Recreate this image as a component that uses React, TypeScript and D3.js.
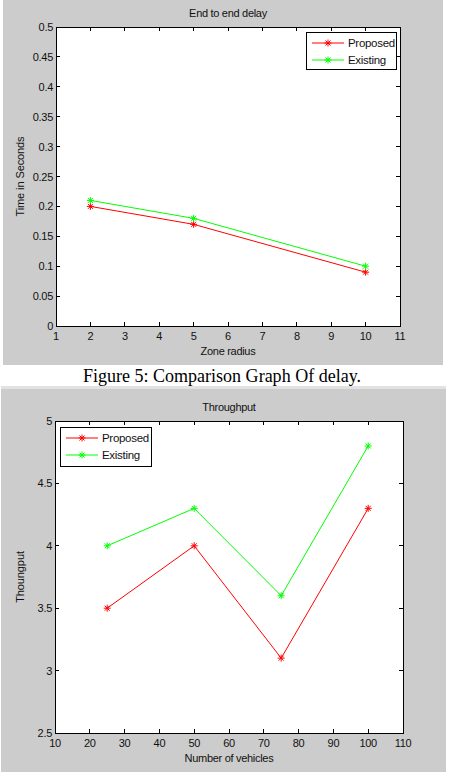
import React from "react";
import * as d3 from "d3";

// ---------- data ----------
const delayX = [2, 5, 10];
const delayProposed = [0.2, 0.17, 0.09];
const delayExisting = [0.21, 0.18, 0.1];
const delayXTicks = [1, 2, 3, 4, 5, 6, 7, 8, 9, 10, 11];
const delayYTicks = [0, 0.05, 0.1, 0.15, 0.2, 0.25, 0.3, 0.35, 0.4, 0.45, 0.5];

const thrX = [25, 50, 75, 100];
const thrProposed = [3.5, 4, 3.1, 4.3];
const thrExisting = [4, 4.3, 3.6, 4.8];
const thrXTicks = [10, 20, 30, 40, 50, 60, 70, 80, 90, 100, 110];
const thrYTicks = [2.5, 3, 3.5, 4, 4.5, 5];

const seriesNames = ["Proposed", "Existing"];
const seriesColors = ["#ff0000", "#00ff00"];

const FONT = "'Liberation Sans', Arial, sans-serif";
const GRAY = "#cccccc";

type ChartProps = {
  bg: { x: number; y: number; w: number; h: number };
  plot: { l: number; r: number; t: number; b: number };
  xDomain: [number, number];
  yDomain: [number, number];
  xTicks: number[];
  yTicks: number[];
  xs: number[];
  series: number[][];
  title: string;
  xLabel: string;
  yLabel: string;
  legend: { x: number; y: number; w: number; h: number };
};

function Star({ x, y, color }: { x: number; y: number; color: string }) {
  const s = 3.5;
  const d = 2.5;
  return (
    <g stroke={color} strokeWidth={1}>
      <line x1={x - s} y1={y} x2={x + s} y2={y} />
      <line x1={x} y1={y - s} x2={x} y2={y + s} />
      <line x1={x - d} y1={y - d} x2={x + d} y2={y + d} />
      <line x1={x - d} y1={y + d} x2={x + d} y2={y - d} />
    </g>
  );
}

function Chart(p: ChartProps) {
  const xScale = d3.scaleLinear().domain(p.xDomain).range([p.plot.l, p.plot.r]);
  const yScale = d3.scaleLinear().domain(p.yDomain).range([p.plot.b, p.plot.t]);
  const line = d3
    .line<[number, number]>()
    .x((d) => xScale(d[0]))
    .y((d) => yScale(d[1]));
  const tl = 4;
  const cx = (p.plot.l + p.plot.r) / 2;
  const cy = (p.plot.t + p.plot.b) / 2;
  return (
    <g>
      <rect x={p.bg.x} y={p.bg.y} width={p.bg.w} height={p.bg.h} fill={GRAY} />
      <rect
        x={p.plot.l}
        y={p.plot.t}
        width={p.plot.r - p.plot.l}
        height={p.plot.b - p.plot.t}
        fill="#ffffff"
      />
      {/* title */}
      <text
        x={cx}
        y={p.plot.t - 10}
        textAnchor="middle"
        fontFamily={FONT}
        fontSize={11}
        letterSpacing={-0.3}
        fill="#111"
      >
        {p.title}
      </text>
      {/* series */}
      {p.series.map((vals, i) => (
        <g key={i}>
          <path
            d={line(p.xs.map((x, j) => [x, vals[j]] as [number, number])) || ""}
            fill="none"
            stroke={seriesColors[i]}
            strokeWidth={1}
          />
          {p.xs.map((x, j) => (
            <Star key={j} x={xScale(x)} y={yScale(vals[j])} color={seriesColors[i]} />
          ))}
        </g>
      ))}
      {/* ticks */}
      <g shapeRendering="crispEdges">
        {p.xTicks.map((t) => (
          <g key={"x" + t}>
            <line x1={xScale(t)} x2={xScale(t)} y1={p.plot.b} y2={p.plot.b - tl} stroke="#000" />
            <line x1={xScale(t)} x2={xScale(t)} y1={p.plot.t} y2={p.plot.t + tl} stroke="#000" />
          </g>
        ))}
        {p.yTicks.map((t) => (
          <g key={"y" + t}>
            <line x1={p.plot.l} x2={p.plot.l + tl} y1={yScale(t)} y2={yScale(t)} stroke="#000" />
            <line x1={p.plot.r} x2={p.plot.r - tl} y1={yScale(t)} y2={yScale(t)} stroke="#000" />
          </g>
        ))}
        <rect
          x={p.plot.l}
          y={p.plot.t}
          width={p.plot.r - p.plot.l}
          height={p.plot.b - p.plot.t}
          fill="none"
          stroke="#000"
          strokeWidth={1}
        />
      </g>
      {p.xTicks.map((t) => (
        <text
          key={"xl" + t}
          x={xScale(t)}
          y={p.plot.b + 14}
          textAnchor="middle"
          fontFamily={FONT}
          fontSize={11}
          letterSpacing={-0.3}
          fill="#111"
        >
          {t}
        </text>
      ))}
      {p.yTicks.map((t) => (
        <text
          key={"yl" + t}
          x={p.plot.l - 3}
          y={yScale(t) + 4}
          textAnchor="end"
          fontFamily={FONT}
          fontSize={11}
          letterSpacing={-0.3}
          fill="#111"
        >
          {t}
        </text>
      ))}
      {/* axis labels */}
      <text
        x={cx}
        y={p.plot.b + 29}
        textAnchor="middle"
        fontFamily={FONT}
        fontSize={11}
        letterSpacing={-0.3}
        fill="#111"
      >
        {p.xLabel}
      </text>
      <text
        transform={`translate(${24},${cy}) rotate(-90)`}
        textAnchor="middle"
        fontFamily={FONT}
        fontSize={11}
        letterSpacing={-0.1}
        fill="#111"
      >
        {p.yLabel}
      </text>
      {/* legend */}
      <rect
        x={p.legend.x}
        y={p.legend.y}
        width={p.legend.w}
        height={p.legend.h}
        fill="#fff"
        stroke="#000"
        strokeWidth={1}
        shapeRendering="crispEdges"
      />
      {seriesNames.map((n, i) => {
        const ly = p.legend.y + 11 + i * 17;
        const lx = p.legend.x + 6;
        return (
          <g key={n}>
            <line x1={lx} x2={lx + 32} y1={ly} y2={ly} stroke={seriesColors[i]} strokeWidth={1} />
            <Star x={lx + 16} y={ly} color={seriesColors[i]} />
            <text
              x={lx + 36}
              y={ly + 4}
              fontFamily={FONT}
              fontSize={11.5}
              letterSpacing={-0.3}
              fill="#111"
            >
              {n}
            </text>
          </g>
        );
      })}
    </g>
  );
}

export default function App() {
  return (
    <svg
      width={450}
      height={772}
      style={{ position: "absolute", left: 0, top: 0, background: "#fff" }}
    >
      <Chart
        bg={{ x: 3, y: 0, w: 440, h: 365 }}
        plot={{ l: 56, r: 400, t: 27, b: 326 }}
        xDomain={[1, 11]}
        yDomain={[0, 0.5]}
        xTicks={delayXTicks}
        yTicks={delayYTicks}
        xs={delayX}
        series={[delayProposed, delayExisting]}
        title="End to end delay"
        xLabel="Zone radius"
        yLabel="Time in Seconds"
        legend={{ x: 306, y: 32, w: 90, h: 37 }}
      />
      <text
        x={222}
        y={382}
        textAnchor="middle"
        fontFamily="'Liberation Serif', 'Times New Roman', serif"
        fontSize={19}
        textLength={278}
        lengthAdjust="spacingAndGlyphs"
        fill="#000"
      >
        Figure 5: Comparison Graph Of delay.
      </text>
      <rect x={1} y={386} width={445} height={3} fill="#e2e2e2" />
      <Chart
        bg={{ x: 1, y: 389, w: 445, h: 383 }}
        plot={{ l: 55, r: 403, t: 421, b: 733 }}
        xDomain={[10, 110]}
        yDomain={[2.5, 5]}
        xTicks={thrXTicks}
        yTicks={thrYTicks}
        xs={thrX}
        series={[thrProposed, thrExisting]}
        title="Throughput"
        xLabel="Number of vehicles"
        yLabel="Thoungput"
        legend={{ x: 60, y: 427, w: 91, h: 39 }}
      />
    </svg>
  );
}
